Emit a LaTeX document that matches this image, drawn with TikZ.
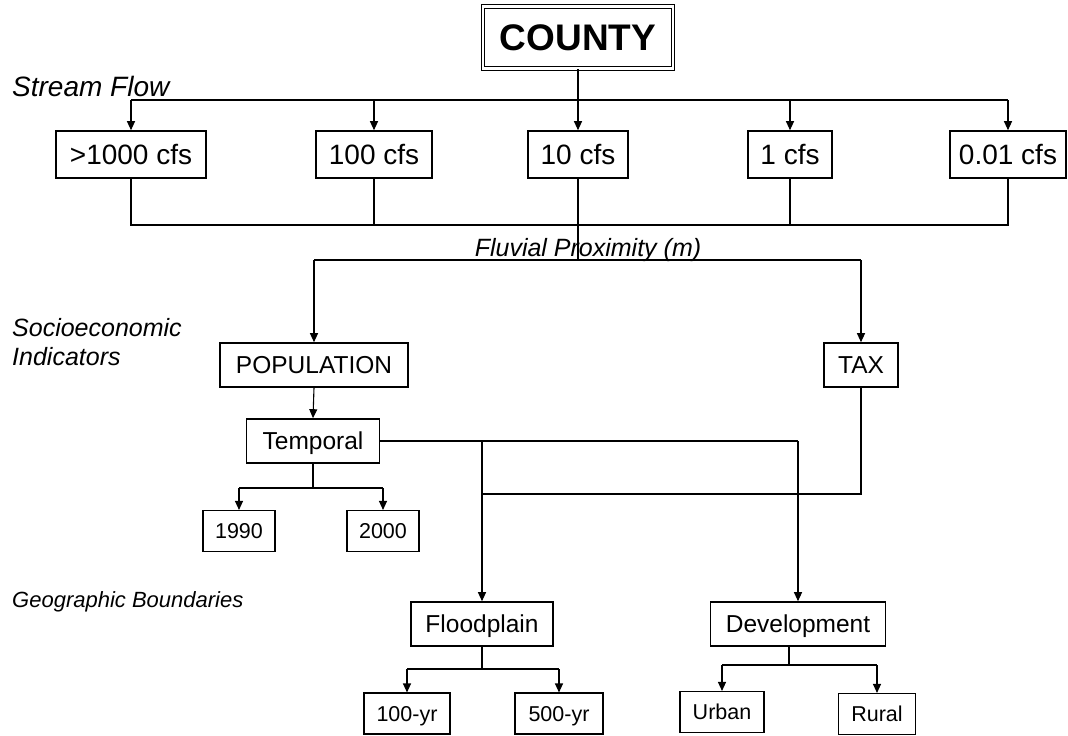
\documentclass[tikz,border=0pt]{standalone}
\usepackage{fontspec}
\setmainfont{Liberation Sans}
\usetikzlibrary{arrows.meta}
\begin{document}
\begin{tikzpicture}[x=1pt,y=-1pt,
  box/.style={draw, line width=1.6pt, inner sep=0pt, text height=17.5pt, text depth=0pt, font=\fontsize{24.5}{28}\selectfont},
  cfsbox/.style={box, minimum height=47pt, text height=20pt, font=\fontsize{28}{32}\selectfont},
  midbox/.style={box, minimum height=44pt},
  smallbox/.style={draw, line width=1.1pt, inner sep=0pt, minimum height=41pt, text height=15.4pt, text depth=0pt, font=\fontsize{21.5}{25}\selectfont},
  conn/.style={line width=1.1pt},
  arr/.style={conn, -{Triangle[length=9pt,width=8pt]}},
  lab/.style={inner sep=0pt, font=\fontsize{25}{29}\itshape\selectfont}
]
\useasboundingbox (0,0) rectangle (1068,736);

% top
\node[draw, double, double distance=2.5pt, line width=1.2pt, minimum width=190pt, minimum height=62pt,
      inner sep=0pt, text height=26.5pt, text depth=0pt,
      font=\fontsize{37}{42}\bfseries\selectfont] (county) at (578,37.5) {COUNTY};

\node[cfsbox, minimum width=150pt] (c1) at (131,154.5) {>1000 cfs};
\node[cfsbox, minimum width=116pt] (c2) at (374,154.5) {100 cfs};
\node[cfsbox, minimum width=100pt] (c3) at (578,154.5) {10 cfs};
\node[cfsbox, minimum width=84pt]  (c4) at (790,154.5) {1 cfs};
\node[cfsbox, minimum width=116pt] (c5) at (1008,154.5) {0.01 cfs};

\coordinate (top) at (578,100);
\coordinate (bot) at (578,225);
\coordinate (fl) at (578,260);

\draw[arr] (county.south) -- (c3.north);
\draw[conn] (top -| c1.north) -- (top -| c5.north);
\foreach \c in {c1,c2,c4,c5} \draw[arr] (top -| \c.north) -- (\c.north);

\draw[conn] (c1.south) -- (bot -| c1.south) -- (bot -| c3.south);
\draw[conn] (c2.south) -- (bot -| c2.south);
\draw[line width=2pt] (bot -| c3.south) -- (bot -| c4.south);
\draw[conn] (c4.south) -- (bot -| c4.south) -- (bot -| c5.south) -- (c5.south);
\draw[conn] (c3.south) -- (fl);

% labels
\node[lab, font=\fontsize{28}{32}\itshape\selectfont, anchor=base west] (sflab) at (12,96) {Stream Flow};
\node[lab, anchor=base] (fllab) at (588,256) {Fluvial Proximity (m)};
\node[lab, anchor=north west, align=left] (selab) at (12,318) {Socioeconomic\\Indicators};
\node[lab, font=\fontsize{22}{26}\itshape\selectfont, anchor=base west] (gblab) at (12,607) {Geographic Boundaries};

% socioeconomic
\node[midbox, minimum width=188pt] (pop) at (314,365) {POPULATION};
\node[midbox, minimum width=74pt] (tax) at (861,365) {TAX};
\node[midbox, minimum width=133pt] (temp) at (313,441) {Temporal};

\draw[conn] (fl -| pop.north) -- (fl -| tax.north);
\draw[arr] (fl -| pop.north) -- (pop.north);
\draw[arr] (fl -| tax.north) -- (tax.north);
\draw[arr] (pop.south) -- (temp.north);

\node[smallbox, minimum width=72pt] (y1990) at (239,531) {1990};
\node[smallbox, minimum width=72pt] (y2000) at (383,531) {2000};
\coordinate (tt) at (313,488);
\draw[conn] (temp.south) -- (tt);
\draw[conn] (tt -| y1990.north) -- (tt -| y2000.north);
\draw[arr] (tt -| y1990.north) -- (y1990.north);
\draw[arr] (tt -| y2000.north) -- (y2000.north);

% geographic
\node[midbox, minimum width=142pt] (flood) at (482,624) {Floodplain};
\node[midbox, minimum width=175pt] (dev) at (798,624) {Development};

\coordinate (tr) at (798,441);
\coordinate (tb) at (482,441);
\coordinate (tj) at (482,494);
\draw[conn] (temp.east) -- (tr);
\draw[arr] (tr) -- (dev.north);
\draw[arr] (tb) -- (flood.north);
\draw[conn] (tax.south) -- (tax.south |- tj) -- (tj);

\node[smallbox, minimum width=86pt] (y100) at (407,713.5) {100-yr};
\node[smallbox, minimum width=88pt] (y500) at (559,713.5) {500-yr};
\node[smallbox, minimum width=84pt] (urban) at (722,712) {Urban};
\node[smallbox, minimum width=77pt] (rural) at (877,714) {Rural};

\coordinate (ft) at (482,669);
\draw[conn] (flood.south) -- (ft);
\draw[conn] (ft -| y100.north) -- (ft -| y500.north);
\draw[arr] (ft -| y100.north) -- (y100.north);
\draw[arr] (ft -| y500.north) -- (y500.north);

\coordinate (dt) at (789,665);
\draw[conn] (dt |- dev.south) -- (dt);
\draw[conn] (dt -| urban.north) -- (dt -| rural.north);
\draw[arr] (dt -| urban.north) -- (urban.north);
\draw[arr] (dt -| rural.north) -- (rural.north);
\end{tikzpicture}
\end{document}
